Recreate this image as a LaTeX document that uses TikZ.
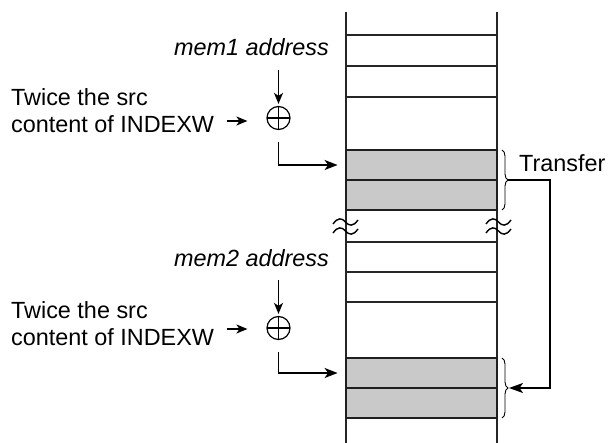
\documentclass[tikz,border=0pt]{standalone}
\usepackage{fontspec}
\setmainfont{Liberation Sans}
\usetikzlibrary{arrows.meta,decorations.pathreplacing,calc}
\begin{document}
\begin{tikzpicture}[x=1pt,y=-1pt,
  memline/.style={line width=2.3pt,draw=black!85},
  cellbox/.style={draw=black!88,line width=2.8pt,fill=black!21,minimum width=151pt,minimum height=30pt,inner sep=0pt},
  arr/.style={line width=1.8pt,-{Stealth[length=13pt,width=10pt,inset=3.5pt]}},
  sarr/.style={line width=1.6pt,-{Stealth[length=11pt,width=9pt,inset=3pt]}},
  tarr/.style={line width=1.6pt,-{Stealth[length=14pt,width=10pt,inset=3.5pt]}},
  lbl/.style={font=\fontsize{23.4}{27}\selectfont,inner sep=0pt},
  oplusnode/.style={circle,draw,line width=1.2pt,minimum size=23pt,inner sep=0pt,
    path picture={\draw[line width=1.2pt] (path picture bounding box.north) -- (path picture bounding box.south)
      (path picture bounding box.west) -- (path picture bounding box.east);}},
  squig/.style={line width=1.4pt},
  bracestyle/.style={line width=0.9pt,decorate,decoration={brace,amplitude=6pt}}]
\useasboundingbox (0,0) rectangle (614,443);
% memory column
\draw[memline] (346,12) -- (346,443);
\draw[memline] (497,12) -- (497,443);
\foreach \yy in {35,66,97,242,272,302}{\draw[memline] (346,\yy) -- (497,\yy);}
\node[cellbox] (ca1) at (421.5,165) {};
\node[cellbox] (ca2) at (421.5,195) {};
\node[cellbox] (cb1) at (421.5,373) {};
\node[cellbox] (cb2) at (421.5,403) {};
% squiggles
\foreach \xx in {333,486}{
  \foreach \yy in {222,231}{
    \draw[squig] (\xx,\yy+2) .. controls (\xx+5,\yy-5) and (\xx+9,\yy-4) .. (\xx+12.5,\yy)
      .. controls (\xx+16,\yy+4) and (\xx+20,\yy+5) .. (\xx+25,\yy-2);
  }
}
% braces
\draw[bracestyle] (502,150) -- coordinate (bA) (502,210);
\draw[bracestyle] (502,358) -- coordinate (bB) (502,418);
\coordinate (tA) at ($(bA)+(6,0)$);
\coordinate (tB) at ($(bB)+(7,0)$);
\node[lbl,anchor=west] (transfer) at (519,163) {Transfer};
\coordinate (tr) at (550,180);
\draw[tarr] (tA) -- (tr) |- (tB);
% upper address part
\node[lbl,anchor=east] (mem1) at (329,47) {\itshape mem1 address};
\node[oplusnode] (op1) at (278.5,118) {};
\node[lbl,anchor=west,align=left] (tw1) at (11,111) {Twice the src\\content of INDEXW};
\coordinate (m1s) at (278.5,70);
\draw[sarr] (m1s) -- ($(op1.north)+(0,-2)$);
\coordinate (t1e) at (227,121);
\draw[sarr] (t1e) -- ($(op1.west)+(-19,3)$);
\draw[arr,shorten >=7pt] ($(op1.south)+(0,12)$) |- (ca1.west);
% lower address part
\node[lbl,anchor=east] (mem2) at (329,258) {\itshape mem2 address};
\node[oplusnode] (op2) at (278.5,328) {};
\node[lbl,anchor=west,align=left] (tw2) at (11,324) {Twice the src\\content of INDEXW};
\coordinate (m2s) at (278.5,280);
\draw[sarr] (m2s) -- ($(op2.north)+(0,-2)$);
\coordinate (t2e) at (227,329);
\draw[sarr] (t2e) -- ($(op2.west)+(-19,1)$);
\draw[arr,shorten >=7pt] ($(op2.south)+(0,12)$) |- (cb1.west);
\end{tikzpicture}
\end{document}
